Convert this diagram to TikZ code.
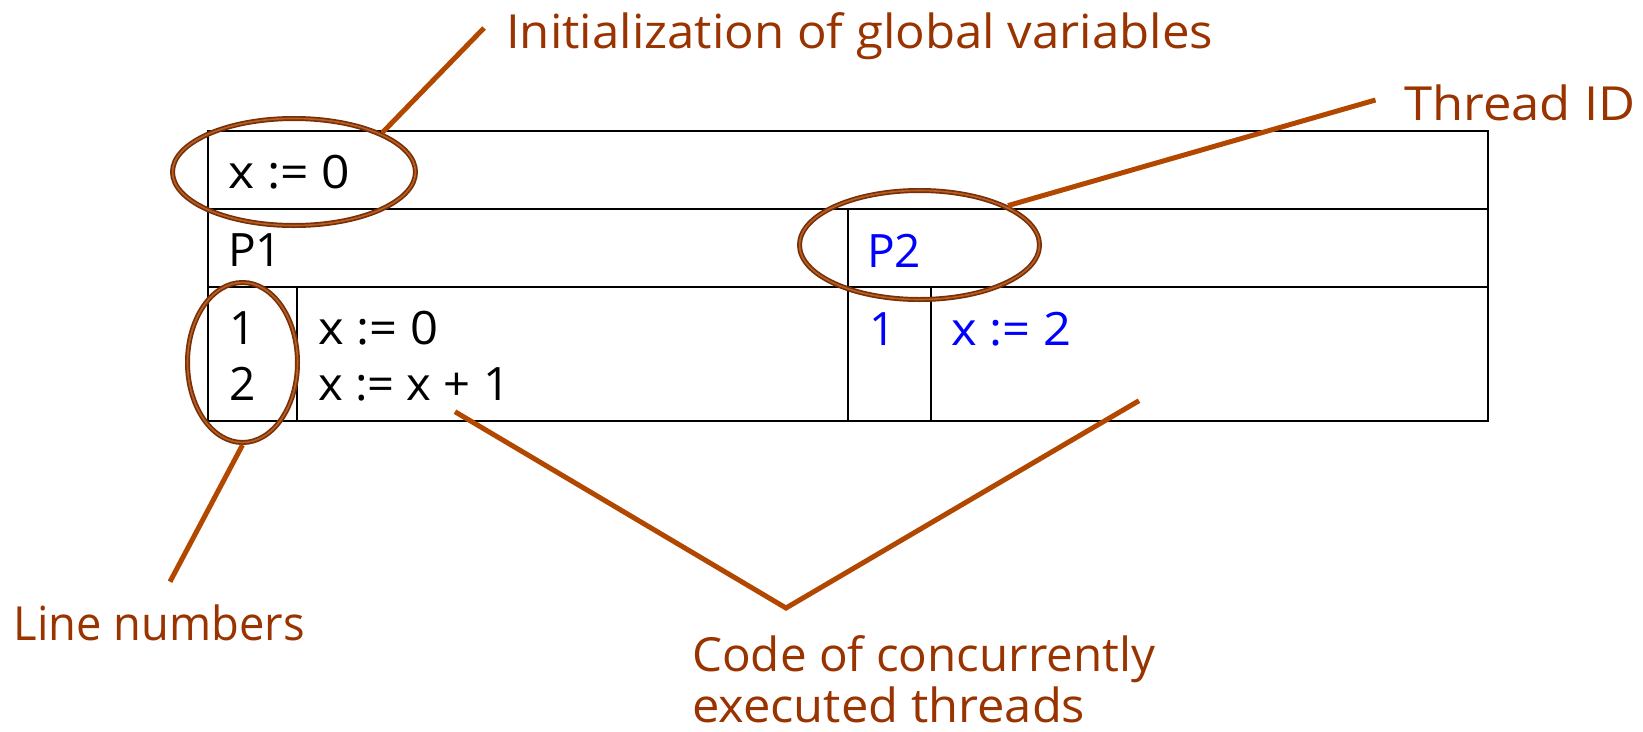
\documentclass[tikz,border=0pt]{standalone}
\usepackage{fontspec}
\usepackage{graphicx}
\setmainfont{Open Sans}
\usetikzlibrary{shapes.geometric}
\definecolor{anntext}{RGB}{153,51,0}
\definecolor{annline}{RGB}{178,72,0}
\definecolor{ringdark}{RGB}{120,48,8}
\definecolor{ringlight}{RGB}{185,95,35}
\definecolor{pblue}{RGB}{0,0,255}
\newcommand{\fitw}[2]{\resizebox{#1}{\height}{#2}}
\tikzset{
  tline/.style={line width=2pt, black},
  ann/.style={inner sep=0pt, anchor=base west, text=anntext, font=\fontsize{47}{50}\selectfont},
  code/.style={inner sep=0pt, anchor=base west, font=\fontsize{46}{50}\selectfont},
  ring/.style={ellipse, inner sep=0pt, draw=ringdark, line width=5pt,
    postaction={draw=ringlight, line width=1.6pt}},
  conn/.style={draw=annline, line width=5pt},
}
\begin{document}
\begin{tikzpicture}[x=1pt,y=-1pt]
\path[use as bounding box] (0,0) rectangle (1643,731);
% table
\draw[tline] (207.5,131) rectangle (1488,421);
\draw[tline] (207.5,209) -- (1488,209);
\draw[tline] (207.5,286.5) -- (1488,286.5);
\draw[tline] (297,286.5) -- (297,421);
\draw[tline] (848,209) -- (848,421);
\draw[tline] (930.5,286.5) -- (930.5,421);
% table texts
\node[code] (init) at (228,188) {\fitw{122pt}{x := 0}};
\node[code] (p1) at (228,266) {P1};
\node[code] (n1) at (229,344) {1};
\node[code] (n2) at (229,400) {2};
\node[code] (s1) at (318,344) {\fitw{120pt}{x := 0}};
\node[code] (s2) at (318,400) {\fitw{192pt}{x := x + 1}};
\node[code, text=pblue] (p2) at (867,267) {P2};
\node[code, text=pblue] (m1) at (869,345) {1};
\node[code, text=pblue] (t1) at (951,345) {\fitw{120pt}{x := 2}};
% rings
\node[ring, minimum width=243pt, minimum height=107pt] (e1) at (294,172) {};
\node[ring, minimum width=110pt, minimum height=160pt] (e2) at (242.5,362.5) {};
\node[ring, minimum width=240pt, minimum height=109pt] (e3) at (919.5,245) {};
% annotation texts
\node[ann] (lab1) at (506,48) {\fitw{707pt}{Initialization of global variables}};
\node[ann] (lab2) at (1404,120.5) {\fitw{231pt}{Thread ID}};
\node[ann] (lab3) at (13.5,640) {\fitw{291pt}{Line numbers}};
\node[ann] (lab4a) at (692,671.5) {\fitw{463pt}{Code of concurrently}};
\node[ann] (lab4b) at (692,722) {\fitw{393pt}{executed threads}};
% connector ends
\coordinate (c1) at (484,28);
\coordinate (c2) at (1375.5,100);
\coordinate (c3) at (170,581.7);
\coordinate (c4a) at (455,411.7);
\coordinate (c4v) at (786,608);
\coordinate (c4b) at (1139,400.7);
% connectors
\draw[conn] (e1.24) -- (c1);
\draw[conn] (e3.24) -- (c2);
\draw[conn] (e2.south) -- (c3);
\draw[conn, line join=miter] (c4a) -- (c4v) -- (c4b);
\end{tikzpicture}
\end{document}
